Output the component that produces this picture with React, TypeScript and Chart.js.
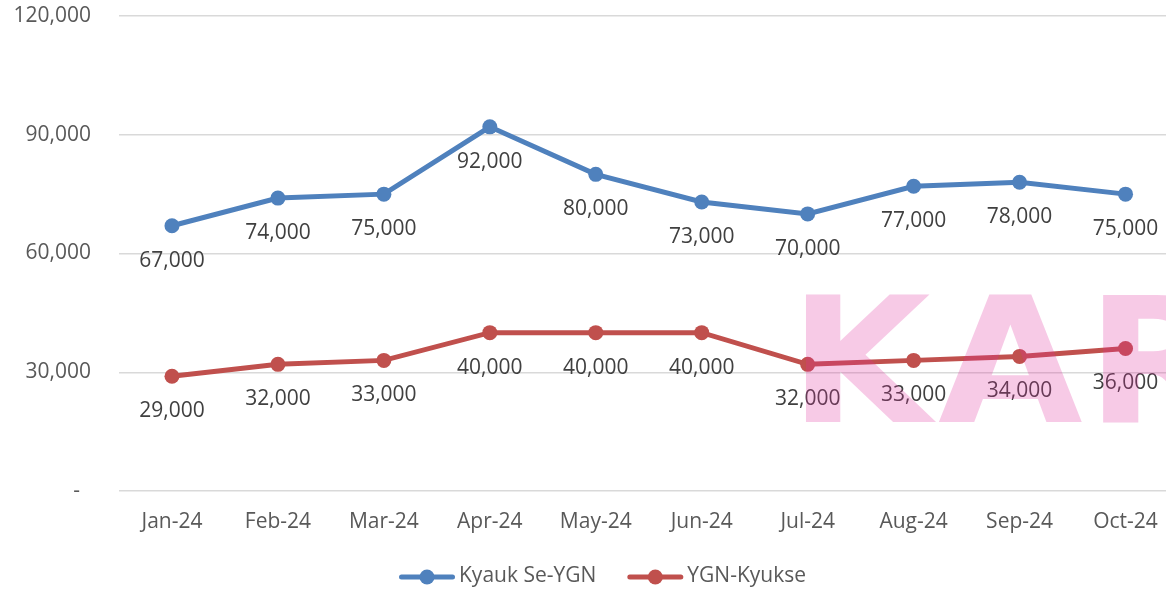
import React, { useEffect, useRef } from 'react';
import { Chart, registerables } from 'chart.js';

Chart.register(...registerables);

const categories = ['Jan-24', 'Feb-24', 'Mar-24', 'Apr-24', 'May-24', 'Jun-24', 'Jul-24', 'Aug-24', 'Sep-24', 'Oct-24'];
const kyaukSeYgn = [67000, 74000, 75000, 92000, 80000, 73000, 70000, 77000, 78000, 75000];
const ygnKyukse = [29000, 32000, 33000, 40000, 40000, 40000, 32000, 33000, 34000, 36000];
const seriesNames = ['Kyauk Se-YGN', 'YGN-Kyukse'];
const seriesColors = ['#4F81BD', '#C0504D'];
const yTickValues = [0, 30000, 60000, 90000, 120000];
const watermarkLetters = ['K', 'A', 'R'];

const FONT = '"Open Sans", sans-serif';

const fmt = (v: number) => (v === 0 ? '-  ' : v.toLocaleString('en-US'));

const dataLabelPlugin = {
  id: 'dataLabels',
  afterDatasetsDraw(chart: any) {
    const ctx = chart.ctx;
    ctx.save();
    ctx.font = `21px ${FONT}`;
    ctx.fillStyle = '#404040';
    ctx.textAlign = 'center';
    ctx.textBaseline = 'middle';
    chart.data.datasets.forEach((ds: any, i: number) => {
      const meta = chart.getDatasetMeta(i);
      meta.data.forEach((pt: any, j: number) => {
        ctx.fillText(fmt(ds.data[j]), pt.x, pt.y + 35);
      });
    });
    ctx.restore();
  },
};

const legendPlugin = {
  id: 'customLegend',
  afterDraw(chart: any) {
    const ctx = chart.ctx;
    ctx.save();
    ctx.font = `21px ${FONT}`;
    const sample = 56;
    const gapText = 4;
    const gapItems = 31;
    const widths = seriesNames.map((n) => ctx.measureText(n).width);
    const total =
      widths.reduce((a, b) => a + b, 0) +
      seriesNames.length * (sample + gapText) +
      gapItems * (seriesNames.length - 1);
    let x = 602.5 - total / 2;
    const y = 577;
    seriesNames.forEach((n, i) => {
      ctx.strokeStyle = seriesColors[i];
      ctx.fillStyle = seriesColors[i];
      ctx.lineWidth = 5;
      ctx.lineCap = 'round';
      ctx.beginPath();
      ctx.moveTo(x + 2.5, y);
      ctx.lineTo(x + sample - 2.5, y);
      ctx.stroke();
      ctx.beginPath();
      ctx.arc(x + sample / 2, y, 7.5, 0, Math.PI * 2);
      ctx.fill();
      ctx.fillStyle = '#595959';
      ctx.textAlign = 'left';
      ctx.textBaseline = 'middle';
      ctx.fillText(n, x + sample + gapText, y - 1);
      x += sample + gapText + widths[i] + gapItems;
    });
    ctx.restore();
  },
};

const watermarkPlugin = {
  id: 'watermark',
  afterDraw(chart: any) {
    const ctx = chart.ctx;
    ctx.save();
    ctx.font = `bold 100px "DejaVu Sans"`;
    const mk = ctx.measureText('K');
    const capH = 127;
    const size = (100 * capH) / mk.actualBoundingBoxAscent;
    ctx.font = `bold ${size}px "DejaVu Sans"`;
    ctx.fillStyle = 'rgba(223, 43, 155, 0.25)';
    ctx.textAlign = 'left';
    ctx.textBaseline = 'alphabetic';
    const baseline = 422;
    const lefts = [805, 938, 1102];
    const targetWidths = [132, 144, 0];
    let lastScale = 1;
    watermarkLetters.forEach((ch, i) => {
      const m = ctx.measureText(ch);
      const w = m.actualBoundingBoxLeft + m.actualBoundingBoxRight;
      const sx = targetWidths[i] ? targetWidths[i] / w : lastScale;
      lastScale = sx;
      ctx.save();
      ctx.translate(lefts[i], baseline);
      ctx.scale(sx, 1);
      ctx.fillText(ch, m.actualBoundingBoxLeft, 0);
      ctx.restore();
    });
    ctx.restore();
  },
};

export default function App() {
  const canvasRef = useRef<HTMLCanvasElement | null>(null);

  useEffect(() => {
    if (!canvasRef.current) return;
    const chart = new Chart(canvasRef.current, {
      type: 'line',
      data: {
        labels: categories,
        datasets: [
          {
            label: seriesNames[0],
            data: kyaukSeYgn,
            borderColor: seriesColors[0],
            backgroundColor: seriesColors[0],
            pointBackgroundColor: seriesColors[0],
            pointBorderWidth: 0,
            pointRadius: 7.5,
            borderWidth: 5,
            tension: 0,
          },
          {
            label: seriesNames[1],
            data: ygnKyukse,
            borderColor: seriesColors[1],
            backgroundColor: seriesColors[1],
            pointBackgroundColor: seriesColors[1],
            pointBorderWidth: 0,
            pointRadius: 7.5,
            borderWidth: 5,
            tension: 0,
          },
        ],
      },
      options: {
        responsive: false,
        animation: false,
        layout: { padding: { top: 16, left: 0, right: 2, bottom: 48 } },
        plugins: {
          legend: { display: false },
          tooltip: { enabled: false },
        },
        scales: {
          x: {
            offset: true,
            grid: { display: false, drawTicks: false, offset: true },
            border: { display: false },
            ticks: {
              font: { family: FONT, size: 21 },
              color: '#595959',
              padding: 18,
              maxRotation: 0,
              autoSkip: false,
            },
            afterFit: (scale: any) => {
              scale.height = 50;
              scale.paddingLeft = 0;
              scale.paddingRight = 0;
            },
          },
          y: {
            min: 0,
            max: 120000,
            afterBuildTicks: (scale: any) => {
              scale.ticks = yTickValues.map((v) => ({ value: v }));
            },
            afterFit: (scale: any) => {
              scale.width = 119;
              scale.paddingTop = 12;
              scale.paddingBottom = 12;
            },
            grid: { color: '#d9d9d9', lineWidth: 1.5, drawTicks: false },
            border: { display: false },
            ticks: {
              font: { family: FONT, size: 21 },
              color: '#595959',
              padding: 28,
              callback: (v: any) => fmt(Number(v)),
            },
          },
        },
      },
      plugins: [dataLabelPlugin, legendPlugin, watermarkPlugin],
    });
    return () => chart.destroy();
  }, []);

  return (
    <div
      style={{
        position: 'fixed',
        left: 0,
        top: 0,
        width: 1166,
        height: 589,
        overflow: 'hidden',
        background: '#ffffff',
      }}
    >
      <canvas ref={canvasRef} width={1186} height={589} style={{ display: 'block' }} />
    </div>
  );
}
